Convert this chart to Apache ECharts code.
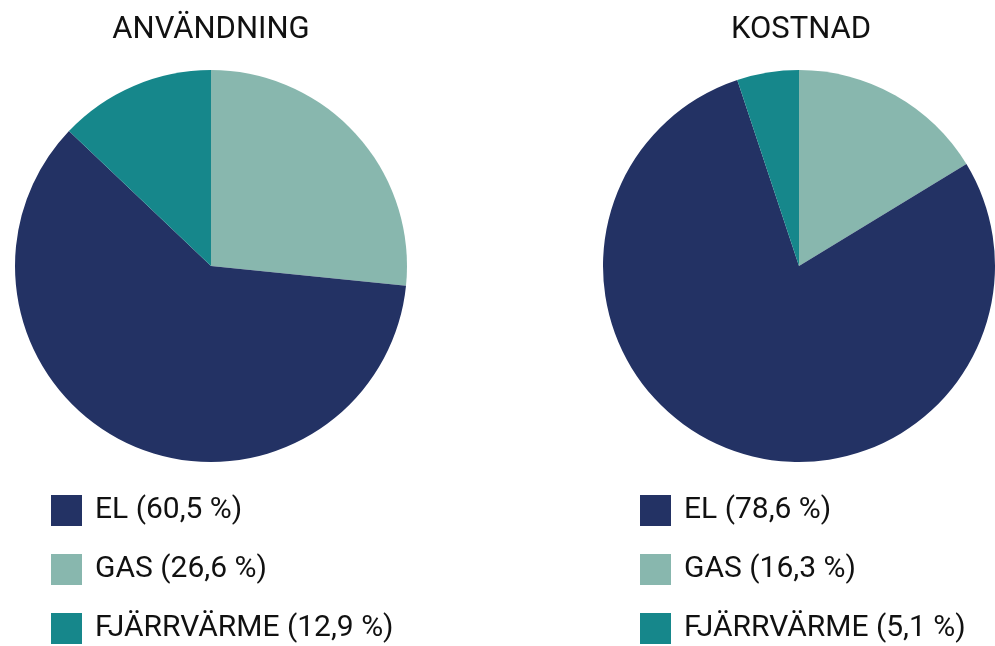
<!DOCTYPE html>
<html>
<head>
<meta charset="utf-8">
<script src="https://cdn.jsdelivr.net/npm/echarts@6/dist/echarts.min.js"></script>
<style>
    html, body { margin: 0; padding: 0; background: #fff; }
    #chart { width: 995px; height: 646px; }
</style>
</head>
<body>
<div id="chart"></div>
<script>
    // slice order clockwise from 12 o'clock
    var categories = ['GAS', 'EL', 'FJÄRRVÄRME'];
    var legendOrder = ['EL', 'GAS', 'FJÄRRVÄRME'];
    var anvandning = [26.6, 60.5, 12.9];
    var kostnad = [16.3, 78.6, 5.1];
    var titles = ['ANVÄNDNING', 'KOSTNAD'];

    var colors = { 'EL': '#233264', 'GAS': '#88b7ae', 'FJÄRRVÄRME': '#16878b' };
    var font = 'Roboto, "Noto Sans", sans-serif';

    function toData(values) {
        return categories.map(function (c, i) {
            return { name: c, value: values[i], itemStyle: { color: colors[c] } };
        });
    }

    function fmt(values) {
        return function (name) {
            var v = values[categories.indexOf(name)];
            return name + ' (' + String(v).replace('.', ',') + ' %)';
        };
    }

    function legend(left, values) {
        return {
            orient: 'vertical',
            left: left,
            top: 493,
            height: 200,
            padding: 0,
            itemWidth: 31,
            itemHeight: 31,
            itemGap: 24,
            icon: 'rect',
            selectedMode: false,
            data: legendOrder,
            formatter: fmt(values),
            textStyle: { fontFamily: font, fontSize: 30, lineHeight: 31, color: '#111', padding: [4, 0, 0, 8] }
        };
    }

    var chart = echarts.init(document.getElementById('chart'));
    chart.setOption({
        animation: false,
        backgroundColor: '#fff',
        title: [
            { text: titles[0], left: 211, top: 15, padding: 0, textAlign: 'center',
              textStyle: { fontFamily: font, fontSize: 31, fontWeight: 'normal', color: '#111' } },
            { text: titles[1], left: 801, top: 15, padding: 0, textAlign: 'center',
              textStyle: { fontFamily: font, fontSize: 31, fontWeight: 'normal', color: '#111' } }
        ],
        legend: [legend(51, anvandning), legend(640, kostnad)],
        series: [
            {
                type: 'pie',
                center: [211, 266],
                radius: 196,
                startAngle: 90,
                clockwise: true,
                label: { show: false },
                labelLine: { show: false },
                emphasis: { disabled: true },
                data: toData(anvandning)
            },
            {
                type: 'pie',
                center: [799, 266],
                radius: 196,
                startAngle: 90,
                clockwise: true,
                label: { show: false },
                labelLine: { show: false },
                emphasis: { disabled: true },
                data: toData(kostnad)
            }
        ]
    });
</script>
</body>
</html>
